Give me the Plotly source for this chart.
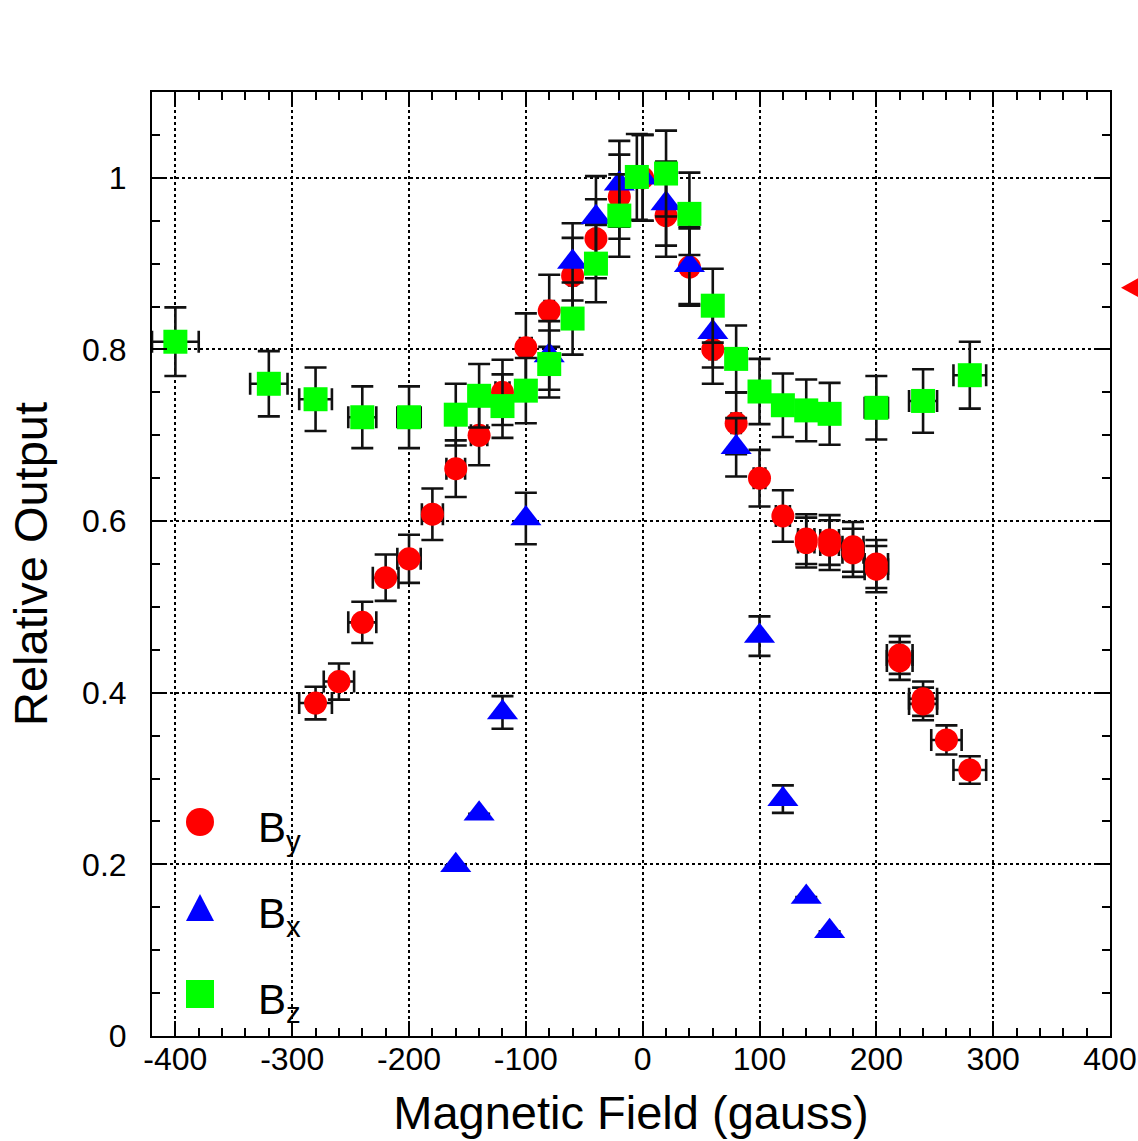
import plotly.graph_objects as go

# ---------------- data ----------------
red_x = [-280, -260, -240, -220, -200, -180, -160, -140, -120, -100, -80, -60, -40, -20, 0,
         20, 40, 60, 80, 100, 120, 140, 140, 160, 160, 180, 180, 200, 200, 220, 220, 240, 240, 260, 280]
red_y = [0.388, 0.413, 0.482, 0.534, 0.556, 0.608, 0.661, 0.700, 0.750, 0.802, 0.845, 0.886, 0.929, 0.978, 1.000,
         0.956, 0.896, 0.800, 0.714, 0.650, 0.606, 0.579, 0.575, 0.578, 0.572, 0.570, 0.563, 0.550, 0.544, 0.444, 0.437,
         0.393, 0.387, 0.345, 0.310]
red_yerr = [0.019, 0.021, 0.024, 0.027, 0.028, 0.030, 0.033, 0.035, 0.038, 0.040, 0.042, 0.044, 0.046, 0.049, 0.050,
            0.048, 0.045, 0.040, 0.036, 0.033, 0.030, 0.029, 0.029, 0.029, 0.029, 0.029, 0.028, 0.028, 0.027, 0.022, 0.022,
            0.020, 0.019, 0.017, 0.016]
red_xerr = [14, 13, 12, 11, 10, 9, 8, 7, 6, 5, 4, 3, 2, 1, 0,
            1, 2, 3, 4, 5, 6, 7, 7, 8, 8, 9, 9, 10, 10, 11, 11, 12, 12, 13, 14]

blue_x = [-160, -140, -120, -100, -80, -60, -40, -20, 0, 20, 40, 60, 80, 100, 120, 140, 160]
blue_y = [0.199, 0.259, 0.377, 0.603, 0.793, 0.902, 0.954, 0.993, 1.000, 0.970, 0.898, 0.820, 0.686, 0.466, 0.276,
          0.162, 0.122]
blue_yerr = [0.0, 0.0, 0.019, 0.030, 0.040, 0.045, 0.048, 0.050, 0.050, 0.049, 0.045, 0.041, 0.034, 0.023, 0.016,
             0.0, 0.0]

green_x = [-400, -320, -280, -240, -200, -160, -140, -120, -100, -80, -60, -40, -20, -5, 20, 40, 60, 80, 100, 120,
           140, 160, 200, 240, 280]
green_y = [0.809, 0.760, 0.742, 0.721, 0.721, 0.724, 0.746, 0.734, 0.752, 0.783, 0.836, 0.900, 0.956, 1.001, 1.005,
           0.958, 0.851, 0.789, 0.751, 0.735, 0.729, 0.725, 0.732, 0.740, 0.770]
green_yerr = [0.040, 0.038, 0.037, 0.036, 0.036, 0.036, 0.037, 0.037, 0.038, 0.039, 0.042, 0.045, 0.048, 0.050, 0.050,
              0.048, 0.043, 0.039, 0.038, 0.037, 0.036, 0.036, 0.037, 0.037, 0.039]
green_xerr = [20, 16, 14, 12, 10, 8, 7, 6, 5, 4, 3, 2, 1, 0, 1, 2, 3, 4, 5, 6, 7, 8, 10, 12, 14]

x_ticks = [-400, -300, -200, -100, 0, 100, 200, 300, 400]
x_ticklabels = ["-400", "-300", "-200", "-100", "0", "100", "200", "300", "400"]
y_ticks = [0, 0.2, 0.4, 0.6, 0.8, 1.0]
y_ticklabels = ["0", "0.2", "0.4", "0.6", "0.8", "1"]

legend_labels = ["B<sub>y</sub>", "B<sub>x</sub>", "B<sub>z</sub>"]
marker_level = 0.872  # red reference marker at right edge

FONT = "Liberation Sans, Arial, Helvetica, sans-serif"
RED, BLUE, GREEN = "#ff0000", "#0000ff", "#00ff00"

err_style = dict(type="data", color="#111111", thickness=2.6, width=11)

fig = go.Figure()
series = [
    ("By", red_x, red_y, red_xerr, red_yerr, RED, "circle", 23),
    ("Bx", blue_x, blue_y, None, blue_yerr, BLUE, "triangle-up", 27),
    ("Bz", green_x, green_y, green_xerr, green_yerr, GREEN, "square", 24),
]
for name, xs, ys, xe, ye, col, sym, size in series:
    kw = dict(error_y=dict(array=ye, **err_style))
    if xe is not None:
        kw["error_x"] = dict(array=xe, **err_style)
    fig.add_trace(go.Scatter(
        x=xs, y=ys, mode="markers", name=name, showlegend=False,
        marker=dict(symbol=sym, size=size, color=col, line=dict(width=0)),
        hoverinfo="x+y", **kw,
    ))

# plot-area geometry (pixels) for the hand-made legend
L, R, T, B = 152, 1110, 92, 1036
W, H = R - L, B - T


def px(xp):
    return (xp - L) / W


def py(yp):
    return (B - yp) / H


shapes = []
# legend symbols
leg_y = [822, 908, 994]
shapes.append(dict(type="circle", xref="paper", yref="paper", xsizemode="pixel", ysizemode="pixel",
                   xanchor=px(200), yanchor=py(leg_y[0]), x0=-14, x1=14, y0=-14, y1=14,
                   fillcolor=RED, line=dict(width=0)))
shapes.append(dict(type="path", xref="paper", yref="paper", xsizemode="pixel", ysizemode="pixel",
                   xanchor=px(200), yanchor=py(leg_y[1]), path="M -14 -13 L 14 -13 L 0 14 Z",
                   fillcolor=BLUE, line=dict(width=0)))
shapes.append(dict(type="rect", xref="paper", yref="paper", xsizemode="pixel", ysizemode="pixel",
                   xanchor=px(200), yanchor=py(leg_y[2]), x0=-14, x1=14, y0=-14, y1=14,
                   fillcolor=GREEN, line=dict(width=0)))
# red left-pointing marker at the right edge
shapes.append(dict(type="path", xref="paper", yref="y", xsizemode="pixel", ysizemode="pixel",
                   xanchor=px(1134), yanchor=marker_level, path="M -13 0 L 7 11 L 7 -11 Z",
                   fillcolor=RED, line=dict(width=0)))

annotations = []
for lab, yp in zip(legend_labels, leg_y):
    annotations.append(dict(text=lab, xref="paper", yref="paper", x=px(256), y=py(yp + 8),
                            xanchor="left", yanchor="middle", showarrow=False,
                            font=dict(family=FONT, size=42, color="black")))

axis_common = dict(
    showline=True, linecolor="black", linewidth=2, mirror="ticks",
    ticks="inside", ticklen=15, tickwidth=2, tickcolor="black",
    showgrid=True, gridcolor="black", gridwidth=1.5, griddash="dot",
    zeroline=False, automargin=False,
    tickfont=dict(family=FONT, size=32, color="black"),
)

fig.update_layout(
    width=1138, height=1141,
    margin=dict(l=L, r=1138 - R, t=T, b=1141 - B, pad=0, autoexpand=False),
    paper_bgcolor="white", plot_bgcolor="white",
    font=dict(family=FONT, color="black"),
    showlegend=False,
    xaxis=dict(range=[-420, 400], tickvals=x_ticks, ticktext=x_ticklabels,
               minor=dict(dtick=20, tick0=0, ticks="inside", ticklen=8, tickwidth=2, tickcolor="black", showgrid=False),
               title=dict(text="Magnetic Field (gauss)", font=dict(family=FONT, size=47), standoff=20),
               ticklabelstandoff=-6,
               **axis_common),
    yaxis=dict(range=[0, 1.1], tickvals=y_ticks, ticktext=y_ticklabels,
               minor=dict(dtick=0.05, tick0=0, ticks="inside", ticklen=8, tickwidth=2, tickcolor="black", showgrid=False),
               title=dict(text="Relative Output", font=dict(family=FONT, size=47), standoff=20),
               ticklabelstandoff=17,
               **axis_common),
    shapes=shapes,
    annotations=annotations,
)

fig.write_html("out.html")
